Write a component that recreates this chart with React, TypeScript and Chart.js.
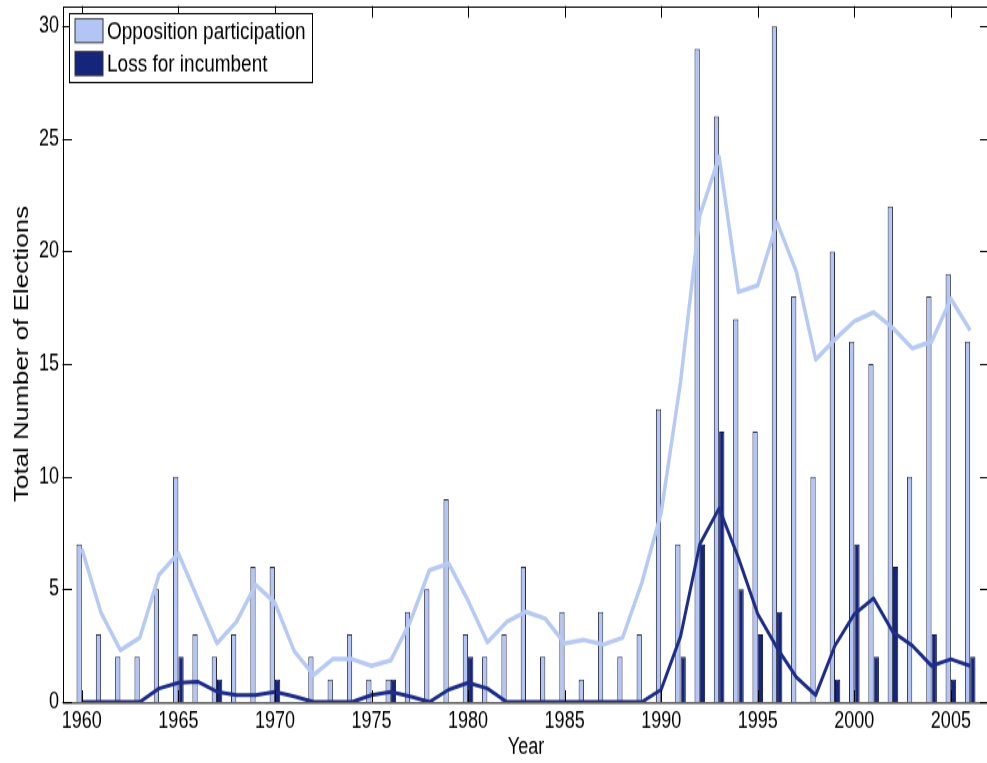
import React, { useEffect, useRef } from "react";
import { Chart, registerables } from "chart.js";

Chart.register(...registerables);

// ---- data ----
const years = [
  1960, 1961, 1962, 1963, 1964, 1965, 1966, 1967, 1968, 1969,
  1970, 1971, 1972, 1973, 1974, 1975, 1976, 1977, 1978, 1979,
  1980, 1981, 1982, 1983, 1984, 1985, 1986, 1987, 1988, 1989,
  1990, 1991, 1992, 1993, 1994, 1995, 1996, 1997, 1998, 1999,
  2000, 2001, 2002, 2003, 2004, 2005, 2006,
];

const opposition = [
  7, 3, 2, 2, 5, 10, 3, 2, 3, 6,
  6, 0, 2, 1, 3, 1, 1, 4, 5, 9,
  3, 2, 3, 6, 2, 4, 1, 4, 2, 3,
  13, 7, 29, 26, 17, 12, 30, 18, 10, 20,
  16, 15, 22, 10, 18, 19, 16,
];

const loss = [
  0, 0, 0, 0, 0, 2, 0, 1, 0, 0,
  1, 0, 0, 0, 0, 0, 1, 0, 0, 0,
  2, 0, 0, 0, 0, 0, 0, 0, 0, 0,
  0, 2, 7, 12, 5, 3, 4, 0, 0, 1,
  7, 2, 6, 0, 3, 1, 2,
];

const oppositionTrend = [
  6.8, 3.95, 2.3, 2.85, 5.65, 6.6, 4.6, 2.6, 3.55, 5.2,
  4.4, 2.25, 1.2, 1.9, 1.9, 1.6, 1.85, 3.55, 5.85, 6.15,
  4.5, 2.65, 3.55, 4.0, 3.7, 2.6, 2.75, 2.55, 2.85, 5.3,
  8.4, 14.2, 21.6, 24.2, 18.2, 18.5, 21.3, 19.1, 15.2, 16.1,
  16.9, 17.3, 16.6, 15.7, 16.0, 17.9, 16.5,
];

const lossTrend = [
  0, 0, 0, 0, 0.6, 0.85, 0.9, 0.45, 0.3, 0.3,
  0.45, 0.25, 0, 0, 0, 0.3, 0.45, 0.25, 0, 0.55,
  0.85, 0.6, 0, 0, 0, 0, 0, 0, 0, 0,
  0.55, 2.9, 7.0, 8.6, 6.4, 3.9, 2.4, 1.1, 0.3, 2.5,
  3.9, 4.6, 3.1, 2.5, 1.6, 1.9, 1.6,
];

const xTickValues = [1960, 1965, 1970, 1975, 1980, 1985, 1990, 1995, 2000, 2005];
const yTickValues = [0, 5, 10, 15, 20, 25, 30];
const seriesLabels = ["Opposition participation", "Loss for incumbent"];
const trendLabels = ["Opposition participation (smoothed)", "Loss for incumbent (smoothed)"];
const xTitle = "Year";
const yTitle = "Total Number of Elections";

// ---- style ----
const FONT = "'Liberation Sans', Arial, Helvetica, sans-serif";
const LIGHT = "#b2c5f5";
const LIGHT_LINE = "#b7caf4";
const DARK = "#16257c";
const DARK_LINE = "#1d2d88";

// canvas bitmap is drawn at 1000 x 587 and stretched vertically to 763 (as the reference image is)
const CANVAS_W = 1000;
const CANVAS_H = 587;
const PAGE_H = 763;

const boxPlugin = {
  id: "matlabBox",
  afterDatasetsDraw(chart: any) {
    const { ctx, chartArea: a } = chart;
    const xs = chart.scales.x;
    const ys = chart.scales.y;
    ctx.save();
    ctx.strokeStyle = "#000";
    ctx.lineWidth = 1;
    ctx.beginPath();
    xs.ticks.forEach((t: any) => {
      const p = Math.round(xs.getPixelForValue(t.value)) + 0.5;
      ctx.moveTo(p, a.bottom);
      ctx.lineTo(p, a.bottom - 9);
      ctx.moveTo(p, a.top);
      ctx.lineTo(p, a.top + 9);
    });
    ys.ticks.forEach((t: any) => {
      const p = Math.round(ys.getPixelForValue(t.value)) + 0.5;
      ctx.moveTo(a.left, p);
      ctx.lineTo(a.left + 9.5, p);
      ctx.moveTo(a.right, p);
      ctx.lineTo(a.right - 9.5, p);
    });
    ctx.stroke();
    ctx.strokeRect(Math.round(a.left) + 0.5, Math.round(a.top) + 0.5, a.right - a.left, a.bottom - a.top);

    // legend
    const items = chart.data.datasets.filter((d: any) => d.type === "bar");
    ctx.font = `19px ${FONT}`;
    const L = Math.round(a.left + 6) + 0.5;
    const T = Math.round(a.top + 5) + 0.5;
    const textX = L + 37.5;
    const w = Math.max(...items.map((d: any) => ctx.measureText(d.label).width));
    const R = Math.round(textX + w + 6) + 0.5;
    const B = Math.round(a.top + 58.7) + 0.5;
    ctx.fillStyle = "#fff";
    ctx.fillRect(L, T, R - L, B - T);
    ctx.strokeStyle = "#000";
    ctx.strokeRect(L, T, R - L, B - T);
    items.forEach((d: any, i: number) => {
      const cy = a.top + 19 + i * 25.3;
      ctx.fillStyle = d.backgroundColor;
      ctx.fillRect(L + 5.5, cy - 9.2, 28, 18.4);
      ctx.strokeStyle = "#333";
      ctx.strokeRect(L + 5.5, cy - 9.2, 28, 18.4);
      ctx.fillStyle = "#000";
      ctx.textAlign = "left";
      ctx.textBaseline = "middle";
      ctx.fillText(d.label, textX, cy + 1);
    });
    ctx.restore();
  },
};

export default function App() {
  const ref = useRef<HTMLCanvasElement | null>(null);

  useEffect(() => {
    const canvas = ref.current;
    if (!canvas) return;
    Chart.defaults.font.family = FONT;
    Chart.defaults.color = "#000";

    const chart = new Chart(canvas, {
      type: "bar",
      data: {
        labels: years,
        datasets: [
          {
            type: "bar",
            label: seriesLabels[0],
            data: opposition,
            backgroundColor: LIGHT,
            borderColor: "#2b2f45",
            borderWidth: 1,
            categoryPercentage: 0.55,
            barPercentage: 1,
            order: 2,
          },
          {
            type: "bar",
            label: seriesLabels[1],
            data: loss,
            backgroundColor: DARK,
            borderColor: "#0e1850",
            borderWidth: 1,
            categoryPercentage: 0.55,
            barPercentage: 1,
            order: 3,
          },
          {
            type: "line",
            label: trendLabels[0],
            data: oppositionTrend,
            borderColor: LIGHT_LINE,
            borderWidth: 3.5,
            pointRadius: 0,
            tension: 0,
            borderJoinStyle: "round",
            order: 1,
          },
          {
            type: "line",
            label: trendLabels[1],
            data: lossTrend,
            borderColor: DARK_LINE,
            borderWidth: 3,
            pointRadius: 0,
            tension: 0,
            borderJoinStyle: "round",
            order: 0,
          },
        ] as any,
      },
      options: {
        responsive: false,
        animation: false,
        events: [],
        layout: { padding: { top: 4.6, right: 10.5, left: 0, bottom: 0 } },
        plugins: { legend: { display: false }, tooltip: { enabled: false } },
        scales: {
          x: {
            type: "linear",
            min: 1959,
            max: 2007,
            offset: false,
            grid: { display: false, offset: false, drawTicks: false },
            border: { display: false },
            afterBuildTicks: (s: any) => {
              s.ticks = xTickValues.map((v) => ({ value: v }));
            },
            afterFit: (s: any) => {
              s.height = CANVAS_H - 540;
              s.paddingLeft = 0;
              s.paddingRight = 0;
            },
            ticks: {
              autoSkip: false,
              maxRotation: 0,
              padding: 4.2,
              color: "#000",
              font: { size: 18 },
              callback: (v: any) => String(v),
            },
            title: {
              display: true,
              text: xTitle,
              color: "#000",
              font: { size: 18 },
              padding: { top: 0, bottom: 1.6 },
            },
          },
          y: {
            type: "linear",
            min: 0,
            max: 30.9,
            grid: { display: false, drawTicks: false },
            border: { display: false },
            afterBuildTicks: (s: any) => {
              s.ticks = yTickValues.map((v) => ({ value: v }));
            },
            afterFit: (s: any) => {
              s.width = 62.5;
              s.paddingTop = 0;
              s.paddingBottom = 0;
            },
            ticks: {
              padding: 3.5,
              color: "#000",
              font: { size: 18 },
              callback: (v: any) => String(v),
            },
            title: {
              display: true,
              text: yTitle,
              color: "#000",
              font: { size: 20 },
              padding: { top: 10, bottom: 0 },
            },
          },
        } as any,
      },
      plugins: [boxPlugin],
    });
    return () => chart.destroy();
  }, []);

  return (
    <div
      style={{
        position: "fixed",
        left: 0,
        top: 0,
        width: "987px",
        height: `${PAGE_H}px`,
        overflow: "hidden",
        background: "#fff",
      }}
    >
      <canvas
        ref={ref}
        width={CANVAS_W}
        height={CANVAS_H}
        style={{ display: "block", width: `${CANVAS_W}px`, height: `${PAGE_H}px` }}
      />
    </div>
  );
}
